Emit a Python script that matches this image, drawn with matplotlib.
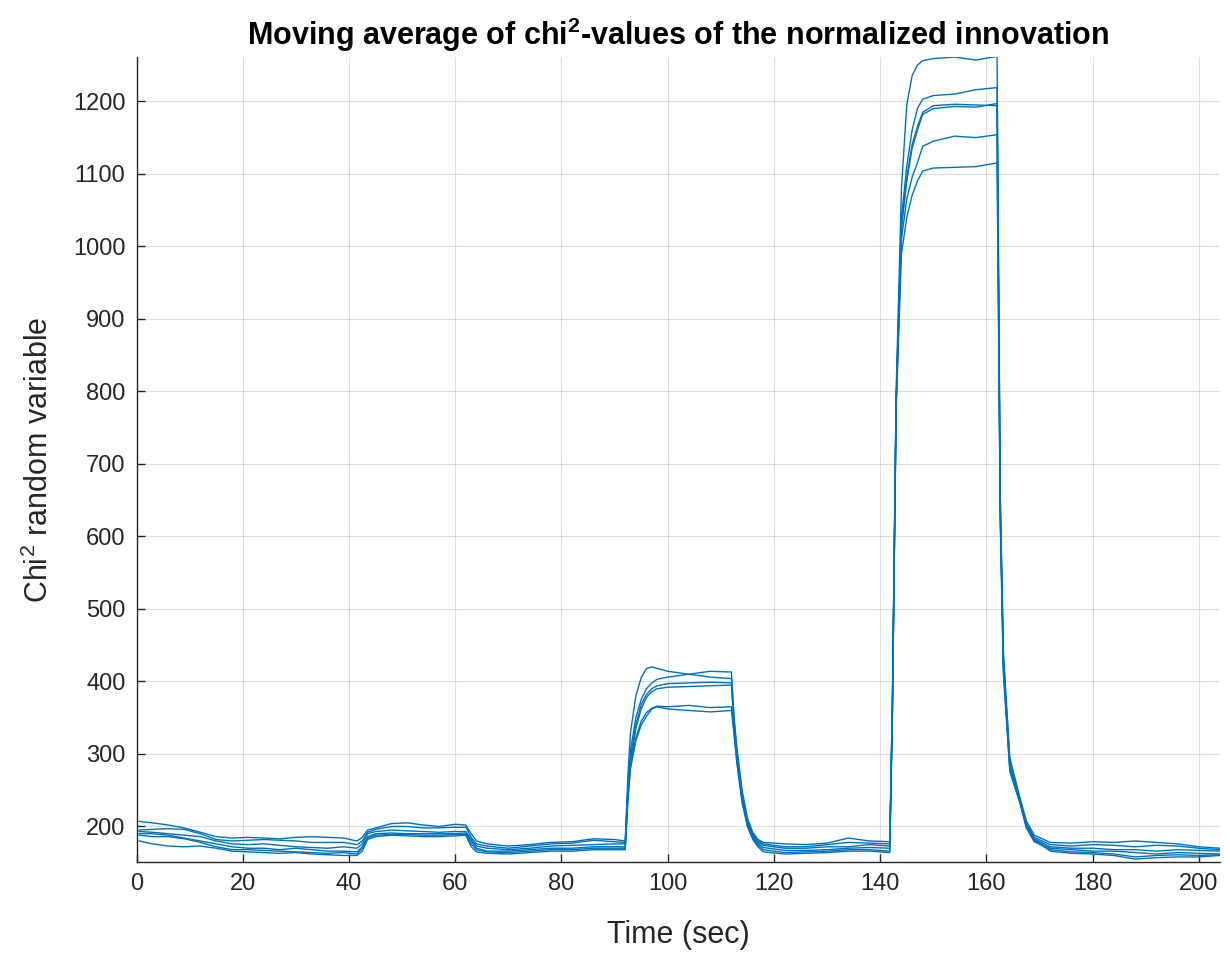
import matplotlib
matplotlib.use("Agg")
import matplotlib.pyplot as plt

plt.rcParams['font.family'] = ['Liberation Sans', 'DejaVu Sans']
plt.rcParams['mathtext.fontset'] = 'custom'
plt.rcParams['mathtext.rm'] = 'Liberation Sans'
plt.rcParams['mathtext.bf'] = 'Liberation Sans:bold'

# time axis (sec), denser around the jumps
t = [0.5, 3, 6, 9, 12, 15, 18, 21, 24, 27, 30, 33, 36, 39, 41.5,
     42.5, 43.5, 45, 48, 51, 54, 57, 60, 62,
     63, 64, 66, 70, 74, 78, 82, 86, 90,
     92, 92.5, 93, 94, 95, 96, 97, 98, 100, 104, 108, 112,
     112.5, 113, 114, 115, 116, 117, 118,
     122, 126, 130, 134, 138, 141.8,
     142.3, 143, 144, 145, 146, 147, 148, 150, 154, 158, 162,
     162.6, 163.2, 164.4, 166.3, 167.5, 169,
     172, 176, 180, 184, 188, 192, 196, 200, 204]

run1 = [207, 205, 202, 198, 192, 186, 184, 185, 184, 183, 185, 186, 185, 184, 180,
        185, 195, 198, 204, 205, 202, 200, 203, 202,
        190, 180, 176, 173, 175, 178, 179, 183, 182,
        180, 270, 330, 380, 405, 418, 420, 418, 414, 410, 406, 404,
        350, 310, 250, 212, 192, 182, 178,
        176, 175, 177, 184, 180, 179,
        380, 800, 1080, 1195, 1235, 1250, 1256, 1259, 1261, 1257, 1262,
        660, 440, 295, 240, 208, 188,
        178, 177, 179, 178, 180, 178, 176, 172, 170]

run2 = [195, 196, 197, 196, 190, 182, 180, 181, 182, 181, 180, 178, 178, 178, 175,
        180, 192, 196, 200, 200, 198, 198, 199, 199,
        185, 176, 173, 170, 173, 176, 177, 181, 179,
        178, 255, 305, 350, 375, 390, 398, 403, 406, 410, 414, 413,
        345, 305, 245, 208, 190, 180, 176,
        172, 172, 175, 178, 177, 176,
        370, 790, 1040, 1110, 1160, 1190, 1203, 1208, 1210, 1216, 1219,
        650, 430, 288, 238, 205, 185,
        175, 173, 175, 174, 172, 174, 173, 170, 168]

run3 = [193, 192, 190, 188, 186, 180, 176, 175, 176, 174, 172, 171, 170, 172, 170,
        176, 190, 193, 195, 194, 193, 192, 193, 193,
        182, 173, 170, 168, 170, 173, 174, 175, 176,
        176, 250, 295, 340, 368, 382, 390, 394, 397, 398, 399, 398,
        340, 300, 242, 206, 188, 178, 174,
        170, 170, 172, 172, 175, 173,
        365, 785, 1030, 1095, 1140, 1165, 1185, 1194, 1196, 1195, 1194,
        640, 425, 285, 236, 203, 183,
        172, 170, 170, 168, 168, 166, 168, 167, 166]

run4 = [190, 190, 188, 184, 180, 176, 172, 170, 170, 168, 170, 168, 166, 166, 165,
        172, 186, 190, 191, 190, 190, 190, 190, 191,
        180, 170, 166, 166, 168, 170, 170, 172, 172,
        172, 245, 290, 335, 362, 378, 386, 390, 392, 393, 394, 395,
        338, 298, 240, 204, 186, 176, 171,
        167, 167, 168, 170, 171, 170,
        360, 780, 1010, 1065, 1095, 1115, 1138, 1145, 1152, 1150, 1154,
        630, 415, 280, 234, 200, 181,
        170, 168, 166, 166, 164, 162, 164, 163, 162]

run5 = [188, 186, 186, 183, 178, 172, 168, 168, 167, 166, 165, 164, 163, 164, 162,
        170, 184, 188, 189, 189, 188, 188, 189, 189,
        176, 168, 165, 164, 166, 168, 168, 170, 170,
        170, 240, 285, 322, 345, 357, 363, 366, 365, 367, 364, 365,
        330, 292, 236, 202, 184, 174, 168,
        164, 165, 166, 168, 168, 166,
        355, 775, 990, 1040, 1070, 1090, 1104, 1108, 1109, 1110, 1115,
        620, 410, 276, 232, 198, 179,
        168, 165, 164, 162, 158, 160, 161, 160, 161]

run6 = [180, 176, 173, 172, 173, 170, 166, 165, 164, 163, 164, 162, 161, 160, 160,
        166, 182, 186, 188, 187, 186, 186, 187, 188,
        172, 165, 163, 162, 164, 166, 166, 168, 168,
        168, 235, 280, 318, 340, 352, 362, 365, 362, 360, 358, 360,
        326, 288, 233, 200, 182, 172, 165,
        162, 163, 164, 166, 166, 164,
        365, 782, 1025, 1090, 1135, 1160, 1182, 1190, 1193, 1192, 1197,
        635, 420, 283, 235, 201, 182,
        166, 163, 162, 160, 155, 157, 158, 158, 160]

runs = [run1, run2, run3, run4, run5, run6]

fig = plt.figure(figsize=(12.3, 9.68), dpi=100)
ax = fig.add_axes([0.111, 0.1095, 0.881, 0.8315])

for r in runs:
    ax.plot(t, r, color='#0072BD', linewidth=1.0)

ax.set_xlim(0, 204)
ax.set_ylim(151, 1261)
ax.set_xticks(range(0, 201, 20))
ax.set_yticks(range(200, 1201, 100))

ax.grid(True, color='#262626', alpha=0.15, linewidth=0.8)
ax.set_axisbelow(True)
for side in ['top', 'right']:
    ax.spines[side].set_visible(False)
for side in ['left', 'bottom']:
    ax.spines[side].set_color('#262626')
    ax.spines[side].set_linewidth(1.0)
ax.tick_params(direction='in', length=6, width=1.0, colors='#262626',
               labelsize=17, pad=8)

ax.set_xlabel('Time (sec)', fontsize=22, color='#262626', labelpad=18)
ax.set_ylabel(r'Chi$^{2}$ random variable', fontsize=22, color='#262626', labelpad=13)
ax.set_title(r'Moving average of chi$^{\mathbf{2}}$-values of the normalized innovation',
             fontsize=22, fontweight='bold', pad=9)

fig.savefig('out.png', dpi=100)
